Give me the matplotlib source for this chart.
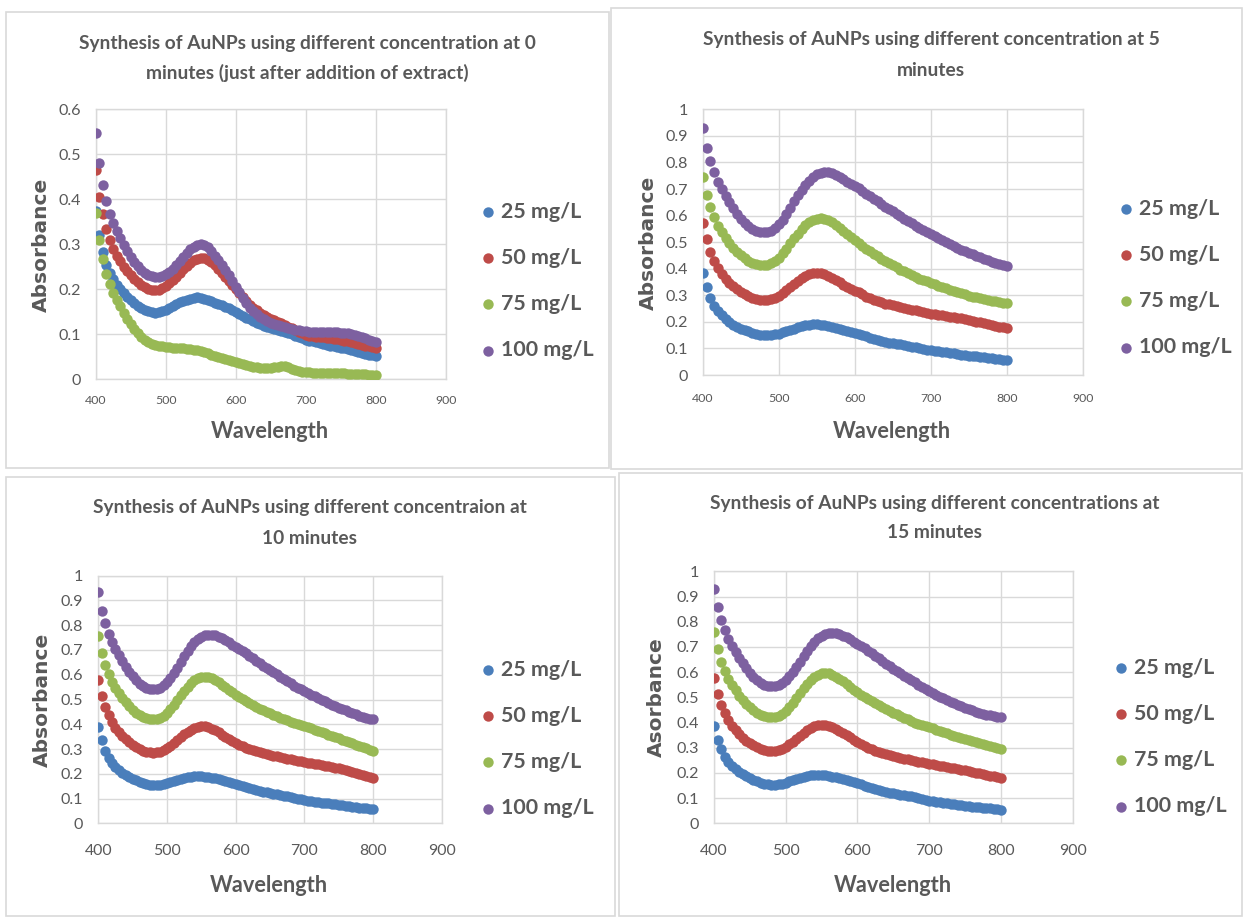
import matplotlib
matplotlib.use("Agg")
import matplotlib.pyplot as plt
from matplotlib.font_manager import FontProperties
from matplotlib.patches import Rectangle
from matplotlib.textpath import TextPath
from matplotlib.ticker import FormatStrFormatter
import numpy as np

W, H = 1243, 917

# ---------------- data ----------------
wavelength = np.arange(400, 801, 5)
concentrations = ['25 mg/L', '50 mg/L', '75 mg/L', '100 mg/L']

# 0 minutes
abs0_25 = [0.375, 0.320, 0.283, 0.255, 0.236, 0.222, 0.210, 0.200, 0.191, 0.183,
           0.176, 0.169, 0.163, 0.158, 0.154, 0.151, 0.149, 0.148, 0.149, 0.151,
           0.155, 0.159, 0.163, 0.167, 0.171, 0.174, 0.177, 0.179, 0.181, 0.182,
           0.181, 0.179, 0.176, 0.173, 0.170, 0.167, 0.164, 0.161, 0.158, 0.154,
           0.150, 0.146, 0.141, 0.137, 0.133, 0.129, 0.125, 0.122, 0.119, 0.116,
           0.113, 0.111, 0.109, 0.107, 0.105, 0.103, 0.100, 0.097, 0.094, 0.091,
           0.088, 0.086, 0.084, 0.082, 0.080, 0.078, 0.077, 0.075, 0.074, 0.072,
           0.070, 0.069, 0.067, 0.065, 0.063, 0.061, 0.059, 0.057, 0.055, 0.053,
           0.051]
abs0_50 = [0.465, 0.406, 0.367, 0.333, 0.310, 0.290, 0.275, 0.262, 0.250, 0.240,
           0.231, 0.223, 0.216, 0.210, 0.205, 0.201, 0.199, 0.198, 0.199, 0.202,
           0.207, 0.213, 0.220, 0.228, 0.236, 0.244, 0.252, 0.259, 0.264, 0.268,
           0.270, 0.269, 0.266, 0.261, 0.254, 0.246, 0.237, 0.228, 0.219, 0.210,
           0.201, 0.191, 0.182, 0.174, 0.166, 0.159, 0.153, 0.148, 0.143, 0.139,
           0.135, 0.131, 0.127, 0.124, 0.121, 0.117, 0.113, 0.109, 0.105, 0.102,
           0.099, 0.097, 0.096, 0.095, 0.094, 0.093, 0.092, 0.091, 0.090, 0.089,
           0.088, 0.086, 0.085, 0.083, 0.081, 0.079, 0.077, 0.075, 0.073, 0.071,
           0.069]
abs0_75 = [0.369, 0.310, 0.267, 0.234, 0.211, 0.192, 0.176, 0.162, 0.148, 0.135,
           0.123, 0.112, 0.102, 0.094, 0.087, 0.082, 0.079, 0.077, 0.075, 0.073,
           0.072, 0.071, 0.070, 0.070, 0.069, 0.069, 0.068, 0.067, 0.066, 0.065,
           0.063, 0.061, 0.058, 0.055, 0.052, 0.050, 0.048, 0.046, 0.043, 0.040,
           0.038, 0.036, 0.034, 0.032, 0.030, 0.028, 0.027, 0.026, 0.026, 0.026,
           0.026, 0.027, 0.028, 0.030, 0.030, 0.027, 0.023, 0.020, 0.018, 0.017,
           0.016, 0.016, 0.015, 0.015, 0.015, 0.014, 0.014, 0.014, 0.013, 0.013,
           0.013, 0.013, 0.012, 0.012, 0.012, 0.011, 0.011, 0.011, 0.010, 0.010,
           0.010]
abs0_100 = [0.547, 0.480, 0.432, 0.397, 0.368, 0.347, 0.330, 0.313, 0.298, 0.284,
            0.271, 0.260, 0.251, 0.243, 0.237, 0.232, 0.229, 0.227, 0.227, 0.229,
            0.233, 0.239, 0.246, 0.254, 0.263, 0.272, 0.281, 0.289, 0.295, 0.299,
            0.300, 0.298, 0.293, 0.285, 0.275, 0.264, 0.253, 0.242, 0.231, 0.219,
            0.206, 0.193, 0.180, 0.169, 0.159, 0.151, 0.144, 0.138, 0.133, 0.129,
            0.126, 0.123, 0.120, 0.118, 0.116, 0.114, 0.112, 0.110, 0.109, 0.108,
            0.107, 0.106, 0.106, 0.105, 0.105, 0.105, 0.105, 0.104, 0.104, 0.104,
            0.103, 0.103, 0.102, 0.101, 0.099, 0.097, 0.094, 0.091, 0.088, 0.086,
            0.083]

# 5 minutes
abs5_25 = [0.385, 0.333, 0.289, 0.260, 0.240, 0.224, 0.211, 0.200, 0.190, 0.182,
           0.175, 0.169, 0.164, 0.159, 0.155, 0.152, 0.151, 0.150, 0.151, 0.153,
           0.156, 0.160, 0.165, 0.170, 0.175, 0.180, 0.184, 0.187, 0.190, 0.191,
           0.191, 0.189, 0.187, 0.184, 0.181, 0.177, 0.173, 0.169, 0.165, 0.161,
           0.157, 0.153, 0.149, 0.145, 0.141, 0.137, 0.133, 0.129, 0.125, 0.122,
           0.119, 0.117, 0.115, 0.112, 0.110, 0.107, 0.104, 0.101, 0.098, 0.095,
           0.093, 0.091, 0.089, 0.087, 0.085, 0.083, 0.081, 0.079, 0.077, 0.075,
           0.073, 0.071, 0.070, 0.068, 0.066, 0.065, 0.063, 0.061, 0.060, 0.058,
           0.057]
abs5_50 = [0.571, 0.511, 0.464, 0.429, 0.402, 0.380, 0.362, 0.347, 0.334, 0.322,
           0.312, 0.303, 0.296, 0.290, 0.285, 0.282, 0.281, 0.282, 0.285, 0.291,
           0.299, 0.309, 0.320, 0.332, 0.344, 0.355, 0.365, 0.374, 0.380, 0.384,
           0.385, 0.384, 0.380, 0.374, 0.366, 0.358, 0.349, 0.340, 0.332, 0.325,
           0.318, 0.311, 0.303, 0.295, 0.288, 0.282, 0.277, 0.273, 0.269, 0.266,
           0.263, 0.260, 0.257, 0.254, 0.250, 0.246, 0.243, 0.240, 0.237, 0.234,
           0.231, 0.229, 0.227, 0.224, 0.222, 0.220, 0.218, 0.215, 0.213, 0.210,
           0.207, 0.204, 0.201, 0.198, 0.195, 0.192, 0.189, 0.186, 0.182, 0.179,
           0.176]
abs5_75 = [0.747, 0.678, 0.631, 0.593, 0.562, 0.537, 0.515, 0.496, 0.479, 0.464,
           0.451, 0.440, 0.430, 0.423, 0.418, 0.415, 0.414, 0.415, 0.420, 0.429,
           0.442, 0.458, 0.476, 0.495, 0.514, 0.532, 0.549, 0.563, 0.575, 0.583,
           0.588, 0.590, 0.588, 0.583, 0.575, 0.565, 0.554, 0.543, 0.532, 0.520,
           0.508, 0.497, 0.486, 0.475, 0.465, 0.456, 0.447, 0.438, 0.429, 0.421,
           0.413, 0.405, 0.397, 0.390, 0.383, 0.376, 0.369, 0.363, 0.357, 0.352,
           0.347, 0.341, 0.336, 0.331, 0.326, 0.321, 0.316, 0.312, 0.308, 0.303,
           0.299, 0.295, 0.292, 0.289, 0.286, 0.283, 0.280, 0.277, 0.274, 0.272,
           0.270]
abs5_100 = [0.928, 0.856, 0.806, 0.763, 0.728, 0.700, 0.675, 0.650, 0.627, 0.606,
            0.588, 0.572, 0.559, 0.549, 0.542, 0.538, 0.537, 0.538, 0.543, 0.553,
            0.567, 0.585, 0.607, 0.630, 0.653, 0.676, 0.697, 0.716, 0.732, 0.745,
            0.755, 0.761, 0.764, 0.763, 0.759, 0.753, 0.746, 0.737, 0.728, 0.720,
            0.712, 0.703, 0.693, 0.683, 0.673, 0.663, 0.653, 0.643, 0.634, 0.625,
            0.616, 0.607, 0.598, 0.589, 0.580, 0.571, 0.562, 0.553, 0.545, 0.537,
            0.530, 0.522, 0.515, 0.507, 0.500, 0.493, 0.486, 0.479, 0.472, 0.466,
            0.460, 0.454, 0.448, 0.443, 0.437, 0.432, 0.427, 0.422, 0.418, 0.413,
            0.409]

# 10 minutes
abs10_25 = [0.390, 0.336, 0.293, 0.264, 0.243, 0.227, 0.214, 0.203, 0.194, 0.186,
            0.179, 0.173, 0.167, 0.162, 0.158, 0.156, 0.155, 0.155, 0.156, 0.158,
            0.161, 0.165, 0.170, 0.175, 0.180, 0.184, 0.187, 0.189, 0.190, 0.191,
            0.190, 0.189, 0.187, 0.184, 0.181, 0.177, 0.173, 0.169, 0.165, 0.161,
            0.157, 0.153, 0.149, 0.145, 0.141, 0.138, 0.135, 0.131, 0.128, 0.125,
            0.122, 0.120, 0.118, 0.115, 0.112, 0.109, 0.106, 0.103, 0.100, 0.097,
            0.094, 0.092, 0.090, 0.088, 0.086, 0.084, 0.082, 0.080, 0.078, 0.076,
            0.074, 0.072, 0.070, 0.068, 0.067, 0.065, 0.063, 0.062, 0.060, 0.059,
            0.058]
abs10_50 = [0.579, 0.515, 0.471, 0.436, 0.408, 0.386, 0.368, 0.352, 0.339, 0.327,
            0.317, 0.308, 0.300, 0.294, 0.289, 0.286, 0.285, 0.286, 0.289, 0.295,
            0.303, 0.313, 0.324, 0.336, 0.348, 0.359, 0.369, 0.378, 0.385, 0.390,
            0.392, 0.391, 0.388, 0.382, 0.375, 0.367, 0.358, 0.349, 0.340, 0.332,
            0.325, 0.318, 0.311, 0.305, 0.300, 0.296, 0.292, 0.288, 0.284, 0.280,
            0.276, 0.273, 0.270, 0.267, 0.264, 0.261, 0.258, 0.255, 0.252, 0.250,
            0.248, 0.245, 0.243, 0.240, 0.238, 0.235, 0.233, 0.230, 0.227, 0.225,
            0.222, 0.219, 0.215, 0.211, 0.207, 0.203, 0.199, 0.194, 0.190, 0.186,
            0.182]
abs10_75 = [0.756, 0.689, 0.639, 0.602, 0.572, 0.547, 0.525, 0.505, 0.488, 0.472,
            0.459, 0.447, 0.437, 0.429, 0.424, 0.421, 0.420, 0.421, 0.426, 0.435,
            0.447, 0.462, 0.479, 0.498, 0.517, 0.535, 0.551, 0.565, 0.577, 0.586,
            0.590, 0.592, 0.590, 0.585, 0.578, 0.569, 0.559, 0.549, 0.539, 0.529,
            0.520, 0.511, 0.502, 0.494, 0.486, 0.478, 0.470, 0.463, 0.457, 0.451,
            0.445, 0.439, 0.433, 0.427, 0.421, 0.416, 0.411, 0.406, 0.401, 0.397,
            0.393, 0.388, 0.383, 0.378, 0.373, 0.368, 0.363, 0.358, 0.353, 0.348,
            0.343, 0.338, 0.333, 0.328, 0.323, 0.318, 0.313, 0.308, 0.303, 0.298,
            0.293]
abs10_100 = [0.933, 0.859, 0.808, 0.765, 0.731, 0.703, 0.678, 0.654, 0.632, 0.612,
             0.594, 0.578, 0.564, 0.553, 0.546, 0.542, 0.541, 0.543, 0.548, 0.557,
             0.570, 0.587, 0.607, 0.629, 0.652, 0.675, 0.696, 0.715, 0.731, 0.744,
             0.753, 0.759, 0.762, 0.762, 0.759, 0.754, 0.747, 0.739, 0.731, 0.722,
             0.714, 0.705, 0.696, 0.687, 0.677, 0.667, 0.657, 0.647, 0.637, 0.628,
             0.619, 0.610, 0.601, 0.592, 0.583, 0.574, 0.565, 0.556, 0.548, 0.541,
             0.534, 0.527, 0.520, 0.513, 0.506, 0.499, 0.492, 0.485, 0.479, 0.473,
             0.467, 0.461, 0.456, 0.450, 0.445, 0.440, 0.435, 0.430, 0.426, 0.422,
             0.420]

# 15 minutes
abs15_25 = [0.388, 0.332, 0.295, 0.265, 0.244, 0.228, 0.215, 0.204, 0.194, 0.186,
            0.179, 0.172, 0.166, 0.161, 0.157, 0.155, 0.153, 0.153, 0.154, 0.157,
            0.161, 0.166, 0.171, 0.176, 0.181, 0.185, 0.189, 0.191, 0.193, 0.193,
            0.192, 0.190, 0.188, 0.185, 0.182, 0.178, 0.174, 0.170, 0.166, 0.162,
            0.158, 0.154, 0.150, 0.146, 0.142, 0.138, 0.134, 0.130, 0.126, 0.122,
            0.119, 0.116, 0.114, 0.112, 0.110, 0.107, 0.104, 0.101, 0.097, 0.093,
            0.090, 0.088, 0.086, 0.084, 0.082, 0.080, 0.078, 0.076, 0.074, 0.072,
            0.070, 0.068, 0.066, 0.065, 0.063, 0.062, 0.060, 0.059, 0.057, 0.056,
            0.054]
abs15_50 = [0.576, 0.513, 0.471, 0.437, 0.409, 0.387, 0.369, 0.353, 0.340, 0.328,
            0.318, 0.309, 0.301, 0.295, 0.290, 0.287, 0.286, 0.287, 0.290, 0.295,
            0.303, 0.313, 0.324, 0.336, 0.348, 0.359, 0.369, 0.378, 0.385, 0.390,
            0.392, 0.391, 0.388, 0.383, 0.376, 0.368, 0.359, 0.350, 0.341, 0.332,
            0.323, 0.315, 0.307, 0.300, 0.294, 0.288, 0.283, 0.278, 0.274, 0.270,
            0.266, 0.263, 0.260, 0.257, 0.254, 0.251, 0.248, 0.245, 0.242, 0.239,
            0.236, 0.234, 0.231, 0.229, 0.226, 0.224, 0.221, 0.218, 0.215, 0.212,
            0.210, 0.207, 0.204, 0.201, 0.198, 0.195, 0.192, 0.189, 0.186, 0.183,
            0.180]
abs15_75 = [0.759, 0.693, 0.640, 0.603, 0.574, 0.549, 0.527, 0.507, 0.490, 0.474,
            0.461, 0.449, 0.439, 0.431, 0.426, 0.422, 0.421, 0.422, 0.426, 0.434,
            0.446, 0.461, 0.479, 0.498, 0.517, 0.536, 0.553, 0.568, 0.580, 0.590,
            0.595, 0.597, 0.595, 0.590, 0.582, 0.573, 0.563, 0.552, 0.541, 0.530,
            0.520, 0.511, 0.502, 0.494, 0.486, 0.478, 0.470, 0.462, 0.454, 0.446,
            0.439, 0.432, 0.425, 0.418, 0.412, 0.406, 0.400, 0.395, 0.390, 0.386,
            0.382, 0.377, 0.372, 0.367, 0.362, 0.357, 0.352, 0.348, 0.344, 0.340,
            0.336, 0.332, 0.328, 0.324, 0.320, 0.316, 0.312, 0.307, 0.302, 0.298,
            0.295]
abs15_100 = [0.931, 0.858, 0.808, 0.766, 0.732, 0.705, 0.680, 0.657, 0.636, 0.616,
             0.598, 0.582, 0.568, 0.558, 0.550, 0.546, 0.544, 0.545, 0.549, 0.557,
             0.568, 0.583, 0.601, 0.621, 0.642, 0.663, 0.684, 0.703, 0.720, 0.734,
             0.745, 0.752, 0.756, 0.757, 0.755, 0.751, 0.745, 0.738, 0.730, 0.721,
             0.712, 0.703, 0.694, 0.684, 0.674, 0.664, 0.654, 0.644, 0.634, 0.624,
             0.614, 0.604, 0.595, 0.586, 0.577, 0.568, 0.559, 0.550, 0.541, 0.533,
             0.525, 0.517, 0.510, 0.503, 0.496, 0.489, 0.482, 0.476, 0.470, 0.464,
             0.458, 0.453, 0.448, 0.443, 0.439, 0.435, 0.431, 0.428, 0.425, 0.423,
             0.421]

titles = [
    ["Synthesis of AuNPs using different concentration at 0",
     "minutes (just after addition of extract)"],
    ["Synthesis of AuNPs using different concentration at 5",
     "minutes"],
    ["Synthesis of AuNPs using different concentraion at",
     "10 minutes"],
    ["Synthesis of AuNPs using different concentrations at",
     "15 minutes"],
]
ylabels = ["Absorbance", "Absorbance", "Absorbance", "Asorbance"]
xticks = [400, 500, 600, 700, 800, 900]
ymax = [0.6, 1.0, 1.0, 1.0]

series = [
    [abs0_25, abs0_50, abs0_75, abs0_100],
    [abs5_25, abs5_50, abs5_75, abs5_100],
    [abs10_25, abs10_50, abs10_75, abs10_100],
    [abs15_25, abs15_50, abs15_75, abs15_100],
]

# ---------------- style ----------------
colors = ['#4A7EBB', '#BE4B48', '#98B954', '#7D60A0']
text_col = '#595959'
grid_col = '#D9D9D9'
FONT = 'Lato'


def fit_size(text, width_px, weight='normal', family=FONT):
    """font size (pt) so that text is width_px wide at 100 dpi"""
    tp = TextPath((0, 0), text, size=100,
                  prop=FontProperties(family=family, weight=weight))
    return width_px * 72 / tp.get_extents().width


title_fs = fit_size(titles[0][0], 457, 'bold')
xlab_fs = fit_size('Wavelength', 117, 'bold')
leg_fs = fit_size('100 mg/L', 91, 'bold')
ytick_fs = fit_size('0.9', 21)
xtick_small = fit_size('400', 21)
xtick_big = fit_size('400', 27)

# layout in pixels: frame box, plot area (x400, x900, ytop, ybottom),
# title line centres, ylabel pos, xlabel pos, legend (marker x, first row y)
layout = [
    dict(box=(6, 12, 609, 468), plot=(95.7, 445.7, 109.3, 379.3),
         tl=(307, 43, 73), yl=(41, 245), xl=(270, 432), leg=(488, 212),
         xt=xtick_small, xoff=20),
    dict(box=(611, 8, 1242, 469), plot=(702.7, 1082.7, 109.3, 375),
         tl=(931, 40, 71), yl=(648, 243), xl=(892, 432), leg=(1126, 209),
         xt=xtick_small, xoff=22),
    dict(box=(6, 477, 615, 916), plot=(98.3, 441.8, 575.7, 823.3),
         tl=(310, 507, 538), yl=(42, 700), xl=(269, 885), leg=(488, 670),
         xt=xtick_big, xoff=26),
    dict(box=(619, 473, 1242, 916), plot=(714, 1072.5, 571.3, 823.3),
         tl=(935, 503, 533), yl=(656, 697), xl=(893, 885), leg=(1121, 668),
         xt=xtick_big, xoff=26),
]
row_gap = 46

fig = plt.figure(figsize=(W / 100, H / 100), dpi=100)
fig.patch.set_facecolor('white')


def fx(x):
    return x / W


def fy(y):
    return 1 - y / H


for i, lay in enumerate(layout):
    bx0, by0, bx1, by1 = lay['box']
    fig.add_artist(Rectangle((fx(bx0), fy(by1)), fx(bx1 - bx0), (by1 - by0) / H,
                             transform=fig.transFigure, fill=False,
                             edgecolor=grid_col, lw=1.2))

    x0, x1, yt, yb = lay['plot']
    ax = fig.add_axes([fx(x0), fy(yb), fx(x1 - x0), (yb - yt) / H])
    for j in range(4):
        ax.scatter(wavelength, series[i][j], s=56, color=colors[j],
                   linewidths=0, label=concentrations[j], zorder=3 + j)
    ax.set_xlim(400, 900)
    ax.set_ylim(0, ymax[i])
    ax.set_xticks(xticks)
    ax.set_yticks(np.round(np.arange(0, ymax[i] + 0.01, 0.1), 1))
    ax.yaxis.set_major_formatter(FormatStrFormatter('%g'))
    ax.grid(True, color=grid_col, lw=1)
    ax.set_axisbelow(True)
    for sp in ax.spines.values():
        sp.set_color(grid_col)
        sp.set_linewidth(1)
    ax.tick_params(length=0, colors=text_col)
    xt_h = lay['xt']  # approx digit height in px
    ax.tick_params(axis='x', pad=(lay['xoff'] - xt_h / 2) * 0.72,
                   labelsize=lay['xt'])
    ax.tick_params(axis='y', pad=15 * 0.72, labelsize=ytick_fs)
    for lab in ax.get_xticklabels() + ax.get_yticklabels():
        lab.set_family(FONT)

    cx, t1, t2 = lay['tl']
    for ty, line in zip((t1, t2), titles[i]):
        fig.text(fx(cx), fy(ty), line, ha='center', va='center',
                 family=FONT, weight='bold', size=title_fs, color=text_col)
    fig.text(fx(lay['yl'][0]), fy(lay['yl'][1]), ylabels[i], rotation=90,
             ha='center', va='center', family='DejaVu Sans', weight='bold',
             size=14.5, color=text_col)
    fig.text(fx(lay['xl'][0]), fy(lay['xl'][1]), 'Wavelength', ha='center',
             va='center', family=FONT, weight='bold', size=xlab_fs,
             color=text_col)

    mx, my = lay['leg']
    fs_px = leg_fs / 0.72
    text_h = 0.93 * fs_px
    nrow = len(concentrations)
    centre = my + row_gap * (nrow - 1) / 2
    leg = ax.legend(loc='center left',
                    bbox_to_anchor=(fx(mx - 0.25 * fs_px), fy(centre)),
                    bbox_transform=fig.transFigure, frameon=False,
                    handlelength=0.5, handletextpad=0.35, borderpad=0,
                    borderaxespad=0, labelspacing=(row_gap - text_h) / fs_px,
                    prop=dict(family=FONT, weight='bold', size=leg_fs))
    for t in leg.get_texts():
        t.set_color(text_col)

fig.savefig('out.png', dpi=100, facecolor='white')
